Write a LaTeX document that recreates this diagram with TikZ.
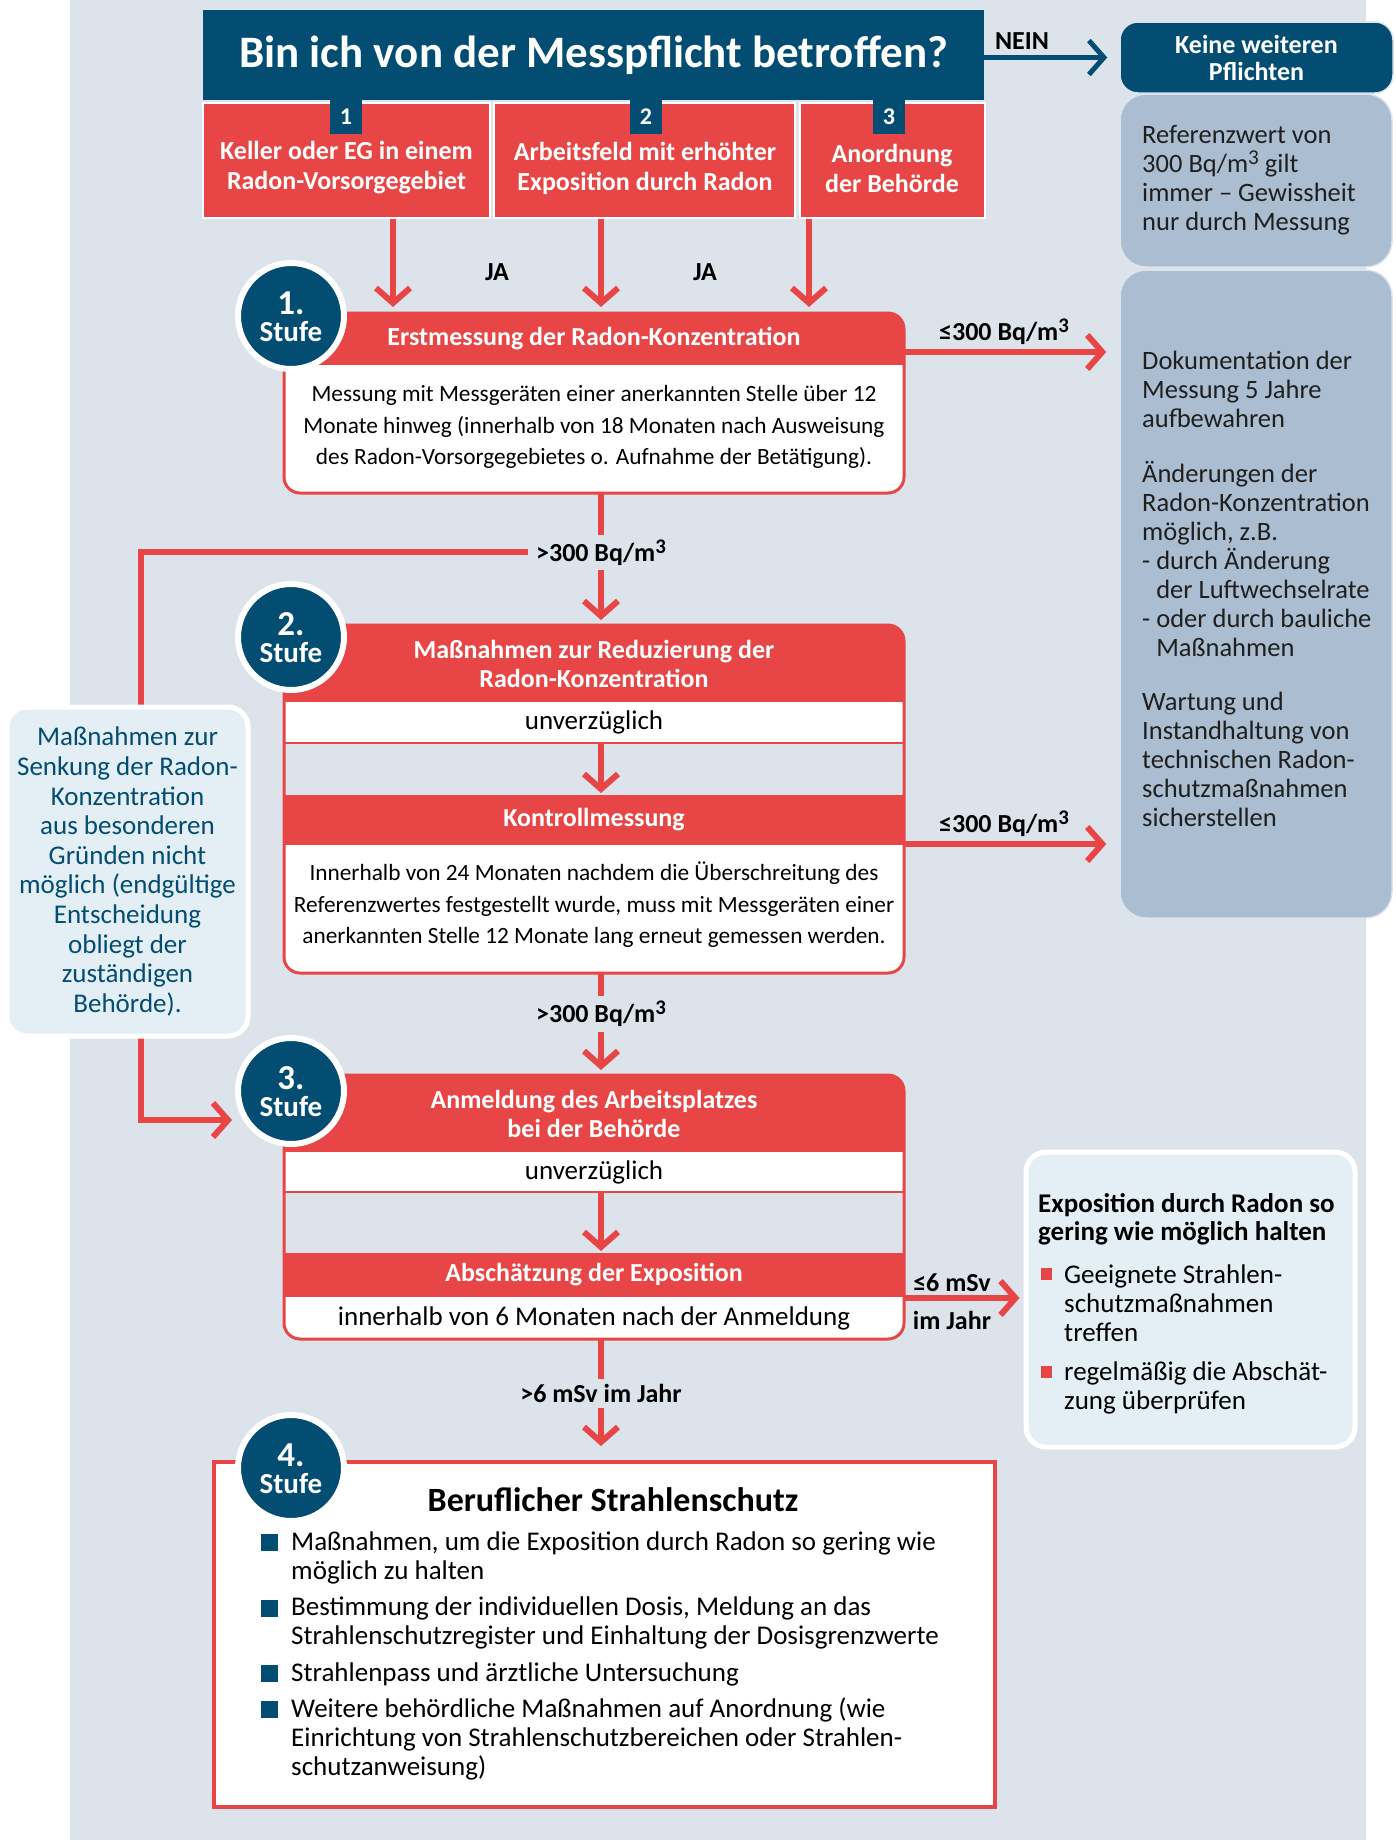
\documentclass[tikz,border=0pt]{standalone}
\usepackage{fontspec}
\setmainfont{Carlito}
\usetikzlibrary{arrows.meta}
\definecolor{bgc}{HTML}{DDE3EB}
\definecolor{dblue}{HTML}{034C72}
\definecolor{myred}{HTML}{E84646}
\definecolor{grayb}{HTML}{ABBDD1}
\definecolor{lblue}{HTML}{E4EEF5}
\newcommand{\myfs}[2]{\fontsize{#1pt}{#2pt}\selectfont}
\newcommand{\mthree}{\raisebox{0.3em}{\scalebox{0.8}{3}}}
\begin{document}
\begin{tikzpicture}[x=1pt,y=-1pt,
 rarrow/.style={draw=myred, line width=6pt, -{Straight Barb[length=15pt,width=34pt,line width=6pt]}},
 barrow/.style={draw=dblue, line width=5pt, -{Straight Barb[length=15pt,width=34pt,line width=5pt]}},
 lbl/.style={font=\bfseries\myfs{26}{28}, text=black, fill=bgc, inner sep=5pt},
 lbltx/.style={font=\bfseries\myfs{26}{28}, text=black, inner sep=0pt, align=center},
 redbox/.style={fill=myred, draw=white, line width=2pt, minimum height=115pt, inner sep=0pt},
 tab/.style={fill=dblue, minimum width=32pt, minimum height=34pt, inner sep=0pt, text=white, font=\bfseries\myfs{24}{24}},
 wtext/.style={text=white, font=\bfseries\myfs{26}{30}, align=center, inner sep=0pt},
 graybox/.style={fill=grayb, draw=bgc, line width=1.5pt, rounded corners=26pt, minimum width=272pt, inner sep=0pt},
 gtext/.style={font=\myfs{26.5}{29}, align=left, inner sep=0pt, text=black!88, anchor=west},
 sbox/.style={fill=white, minimum width=620pt, inner sep=0pt, outer sep=0pt, rounded corners=16pt},
 sframe/.style={draw=myred, line width=3pt, rounded corners=16pt},
 band/.style={minimum width=620pt, inner sep=0pt, outer sep=0pt, align=center},
 redband/.style={band, fill=myred, text=white, font=\bfseries\myfs{26}{29}},
 whiteband/.style={band, fill=white, text=black, font=\myfs{27}{30}},
 grayband/.style={band, fill=bgc},
 btext/.style={font=\myfs{23.3}{31.5}, align=center, inner sep=0pt, text=black},
 circ/.style={circle, fill=dblue, draw=white, line width=6pt, minimum size=106pt, inner sep=0pt},
 cnum/.style={text=white, font=\bfseries\myfs{35}{35}, inner sep=0pt},
 cstufe/.style={text=white, font=\bfseries\myfs{29}{29}, inner sep=0pt},
 infobox/.style={fill=lblue, draw=white, line width=5pt, rounded corners=20pt, inner sep=0pt},
 bul/.style={font=\myfs{27}{29}, align=left, inner sep=0pt, anchor=west, text=black},
]
\useasboundingbox (0,0) rectangle (1396,1840);
\fill[bgc] (70,0) rectangle (1366,1840);

% right column
\node[graybox, minimum height=173pt] (g1) at (1256,180.5) {};
\node[graybox, minimum height=648pt] (g2) at (1256,594) {};
\node[fill=dblue, draw=bgc, line width=1.5pt, rounded corners=18pt, minimum width=273pt, minimum height=71pt, inner sep=0pt, text=white, font=\bfseries\myfs{26}{27}, align=center] (kw) at (1256.5,57.5) {Keine weiteren\\Pflichten};
\node[gtext] (g1t) at (1142,180) {Referenzwert von\\300 Bq/m\mthree{} gilt\\immer – Gewissheit\\nur durch Messung};
\node[gtext] (g2t) at (1142,589) {Dokumentation der\\Messung 5 Jahre\\aufbewahren\\[26pt]Änderungen der\\Radon-Konzentration\\möglich, z.B.\\- durch Änderung\\\hphantom{- }der Luftwechselrate\\- oder durch bauliche\\\hphantom{- }Maßnahmen\\[25pt]Wartung und\\Instandhaltung von\\technischen Radon-\\schutzmaßnahmen\\sicherstellen};

% question
\node[fill=dblue, minimum width=781pt, minimum height=90pt, inner sep=0pt, outer sep=0pt, text=white, font=\bfseries\myfs{45}{50}] (q) at (593.5,55) {Bin ich von der Messpflicht betroffen?};
\node[redbox, minimum width=287pt] (c1) at (346.5,160) {};
\node[redbox, minimum width=301pt] (c2) at (644.5,160) {};
\node[redbox, minimum width=185pt] (c3) at (892,160) {};
\node[tab] (t1) at (346,117) {1};
\node[tab] (t2) at (646,117) {2};
\node[tab] (t3) at (889,117) {3};
\node[wtext] (c1t) at (346.5,168) {Keller oder EG in einem\\Radon-Vorsorgegebiet};
\node[wtext] (c2t) at (645,168) {Arbeitsfeld mit erhöhter\\Exposition durch Radon};
\node[wtext] (c3t) at (892,168) {Anordnung\\der Behörde};
\node[lbltx] (nein) at (1022,41) {NEIN};
\draw[barrow, shorten >=12pt] (q.east |- kw.west) -- (kw.west);
\node[lbltx] (ja1) at (497,272) {JA};
\node[lbltx] (ja2) at (705,272) {JA};

% Stufe 1 box
\node[sbox, minimum height=180pt] (b1) at (594,403) {};
\begin{scope}
\clip[rounded corners=16pt] (b1.north west) rectangle (b1.south east);
\node[redband, minimum height=52pt, anchor=north] (b1h) at (b1.north) {Erstmessung der Radon-Konzentration};
\end{scope}
\draw[sframe] (b1.north west) rectangle (b1.south east);
\node[btext] (b1b) at (594,427) {Messung mit Messgeräten einer anerkannten Stelle über 12\\Monate hinweg (innerhalb von 18 Monaten nach Ausweisung\\des Radon-Vorsorgegebietes o. Aufnahme der Betätigung).};

% Stufe 2 box
\node[sbox, minimum height=348pt] (b2) at (594,799) {};
\begin{scope}
\clip[rounded corners=16pt] (b2.north west) rectangle (b2.south east);
\node[redband, minimum height=77pt, anchor=north] (b2h) at (b2.north) {Maßnahmen zur Reduzierung der\\Radon-Konzentration};
\node[whiteband, minimum height=41pt, anchor=north] (b2u) at (b2h.south) {unverzüglich};
\node[grayband, minimum height=52pt, anchor=north] (b2g) at (b2u.south) {};
\node[redband, minimum height=50pt, anchor=north] (b2k) at (b2g.south) {Kontrollmessung};
\end{scope}
\draw[myred, line width=2.5pt] (b2u.south west) -- (b2u.south east);
\draw[sframe] (b2.north west) rectangle (b2.south east);
\node[btext] (b2b) at (594,905) {Innerhalb von 24 Monaten nachdem die Überschreitung des\\Referenzwertes festgestellt wurde, muss mit Messgeräten einer\\anerkannten Stelle 12 Monate lang erneut gemessen werden.};
\draw[rarrow, shorten >=2pt] ([xshift=7pt]b2u.south) -- ([xshift=7pt]b2k.north);

% Stufe 3 box
\node[sbox, minimum height=264pt] (b3) at (594,1207) {};
\begin{scope}
\clip[rounded corners=16pt] (b3.north west) rectangle (b3.south east);
\node[redband, minimum height=77pt, anchor=north] (b3h) at (b3.north) {Anmeldung des Arbeitsplatzes\\bei der Behörde};
\node[whiteband, minimum height=40pt, anchor=north] (b3u) at (b3h.south) {unverzüglich};
\node[grayband, minimum height=61pt, anchor=north] (b3g) at (b3u.south) {};
\node[redband, minimum height=44pt, anchor=north] (b3k) at (b3g.south) {Abschätzung der Exposition};
\node[whiteband, minimum height=42pt, anchor=north] (b3b) at (b3k.south) {innerhalb von 6 Monaten nach der Anmeldung};
\end{scope}
\draw[myred, line width=2.5pt] (b3u.south west) -- (b3u.south east);
\draw[sframe] (b3.north west) rectangle (b3.south east);
\draw[rarrow, shorten >=2pt] ([xshift=7pt]b3u.south) -- ([xshift=7pt]b3k.north);

% Stufe 4 box
\node[draw=myred, line width=4pt, fill=white, minimum width=781pt, minimum height=345pt, inner sep=0pt] (b4) at (604.5,1634.5) {};
\node[font=\bfseries\myfs{34}{36}, inner sep=0pt] (b4t) at (613,1500) {Beruflicher Strahlenschutz};
\foreach \yy in {1542.5,1608.5,1673.5,1709.5} \fill[dblue] (261,\yy-8.5) rectangle (278,\yy+8.5);
\node[bul] (p1) at (291,1557.5) {Maßnahmen, um die Exposition durch Radon so gering wie\\möglich zu halten};
\node[bul] (p2) at (291,1623) {Bestimmung der individuellen Dosis, Meldung an das\\Strahlenschutzregister und Einhaltung der Dosisgrenzwerte};
\node[bul] (p3) at (291,1674) {Strahlenpass und ärztliche Untersuchung};
\node[bul] (p4) at (291,1739) {Weitere behördliche Maßnahmen auf Anordnung (wie\\Einrichtung von Strahlenschutzbereichen oder Strahlen-\\schutzanweisung)};

% right info box
\node[infobox, minimum width=329pt, minimum height=295pt] (rb) at (1190.5,1299.5) {};
\node[font=\bfseries\myfs{27}{28}, align=left, inner sep=0pt, anchor=west] (rbt) at (1038,1219) {Exposition durch Radon so\\gering wie möglich halten};
\fill[myred] (1041,1268) rectangle (1052,1280);
\fill[myred] (1041,1366) rectangle (1052,1378);
\node[bul] (r1) at (1064,1303.5) {Geeignete Strahlen-\\schutzmaßnahmen\\treffen};
\node[bul] (r2) at (1064,1388) {regelmäßig die Abschät-\\zung überprüfen};

% connectors
\draw[rarrow, shorten >=6pt] ([xshift=46.5pt]c1.south) -- ([xshift=46.5pt]c1.south |- b1.north);
\draw[rarrow, shorten >=6pt] ([xshift=-43.5pt]c2.south) -- ([xshift=-43.5pt]c2.south |- b1.north);
\draw[rarrow, shorten >=6pt] ([xshift=-83pt]c3.south) -- ([xshift=-83pt]c3.south |- b1.north);
\draw[rarrow, shorten >=5pt] ([xshift=7pt]b1.south) -- ([xshift=7pt]b1.south |- b2.north) node[lbl, pos=0.45] (l1) {>300 Bq/m\mthree};
\draw[rarrow, shorten >=5pt] ([xshift=7pt]b2.south) -- ([xshift=7pt]b2.south |- b3.north) node[lbl, pos=0.4] (l2) {>300 Bq/m\mthree};
\draw[rarrow, shorten >=14pt] ([xshift=7pt]b3.south) -- ([xshift=7pt]b3.south |- b4.north) node[lbl, pos=0.45] (l4) {>6 mSv im Jahr};
\draw[rarrow, shorten >=13pt] ([yshift=-39pt]b1.north east) -- ([yshift=-39pt]b1.north east -| g2.west);
\node[lbltx] (l5) at (1004,332) {≤300 Bq/m\mthree};
\draw[rarrow, shorten >=13pt] ([yshift=-219pt]b2.north east) -- ([yshift=-219pt]b2.north east -| g2.west);
\node[lbltx] (l6) at (1004,824) {≤300 Bq/m\mthree};
\draw[rarrow, shorten >=4pt] ([yshift=-223pt]b3.north east) -- ([yshift=-223pt]b3.north east -| rb.west);
\node[lbltx] (l7) at (952,1283) {≤6 mSv};
\node[lbltx] (l8) at (952,1320) {im Jahr};

% circles
\node[circ] (st1) at (291,316) {};
\node[circ] (st2) at (291,637) {};
\node[circ] (st3) at (291,1091) {};
\node[circ] (st4) at (291,1468) {};
\foreach \n in {1,2,3,4} {
  \node[cnum] at ([yshift=13pt]st\n.center) {\n.};
  \node[cstufe] at ([yshift=-16pt]st\n.center) {Stufe};
}

% loop
\coordinate (lx) at (141,0);
\draw[rarrow, shorten >=3pt] (l1.west) -- (l1.west -| lx) |- ([yshift=-29pt]st3.west);
\node[infobox, minimum width=241pt, minimum height=329pt, text=dblue, font=\myfs{27}{29.6}, align=center] (lb) at (127.5,871.5) {Maßnahmen zur\\Senkung der Radon-\\Konzentration\\aus besonderen\\Gründen nicht\\möglich (endgültige\\Entscheidung\\obliegt der\\zuständigen\\Behörde).};
\end{tikzpicture}
\end{document}
